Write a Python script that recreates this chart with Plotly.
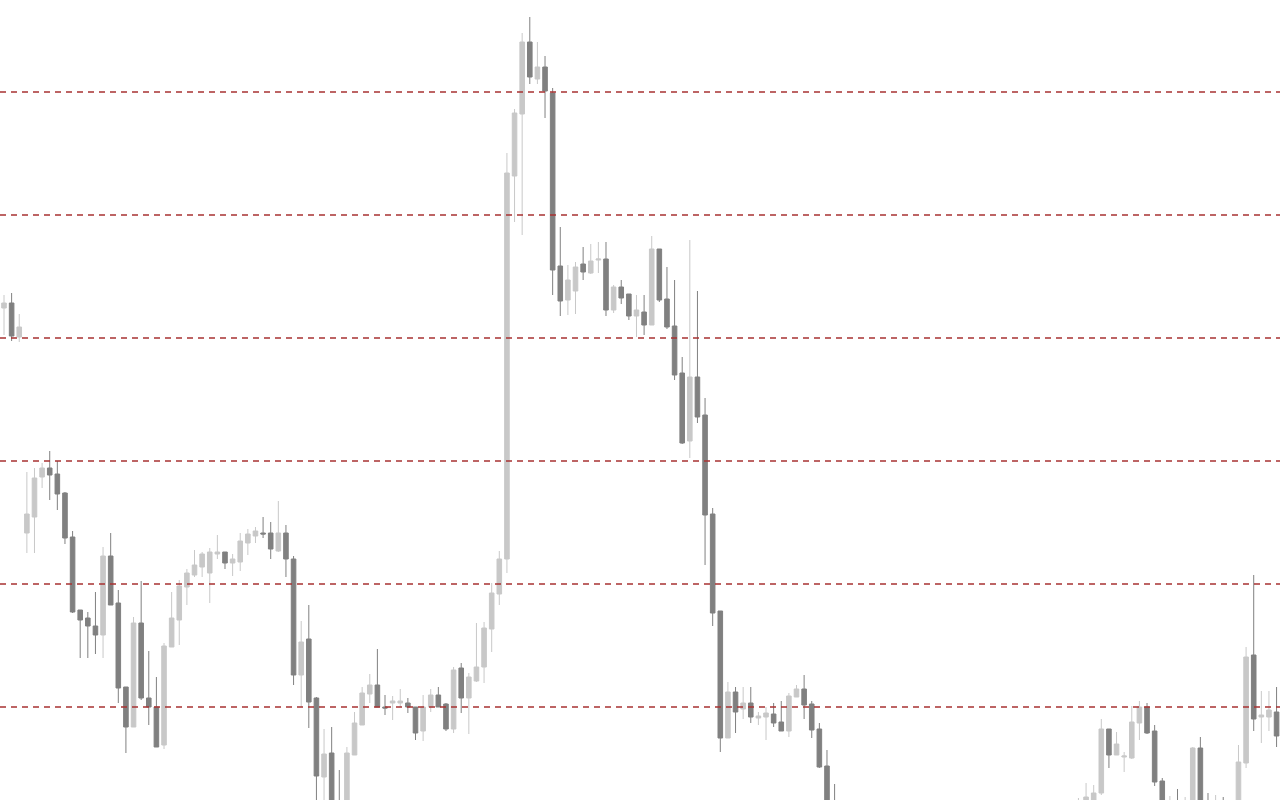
import plotly.graph_objects as go

# Bar index (one candle per period)
bars = list(range(168))

open_ = [1.2692, 1.2697, 1.2663, 1.2467, 1.2483, 1.2523, 1.2532, 1.2526, 1.2507, 1.2463,
         1.2390, 1.2382, 1.2374, 1.2365, 1.2444, 1.2397, 1.2313, 1.2273, 1.2377, 1.2302,
         1.2293, 1.2255, 1.2353, 1.2380, 1.2413, 1.2425, 1.2433, 1.2427, 1.2446, 1.2448,
         1.2437, 1.2438, 1.2457, 1.2464, 1.2467, 1.2467, 1.2449, 1.2467, 1.2441, 1.2325,
         1.2361, 1.2302, 1.2223, 1.2247, 1.2195, 1.2170, 1.2245, 1.2275, 1.2306, 1.2315,
         1.2293, 1.2297, 1.2297, 1.2297, 1.2293, 1.2269, 1.2293, 1.2305, 1.2296, 1.2271,
         1.2332, 1.2302, 1.2319, 1.2333, 1.2371, 1.2406, 1.2441, 1.2824, 1.2886, 1.2958,
         1.2921, 1.2933, 1.2907, 1.2734, 1.2700, 1.2709, 1.2736, 1.2727, 1.2740, 1.2741,
         1.2690, 1.2713, 1.2706, 1.2684, 1.2688, 1.2675, 1.2751, 1.2701, 1.2674, 1.2627,
         1.2559, 1.2623, 1.2585, 1.2486, 1.2389, 1.2262, 1.2308, 1.2291, 1.2297, 1.2282,
         1.2283, 1.2286, 1.2278, 1.2269, 1.2303, 1.2311, 1.2296, 1.2271, 1.2234, 1.2188,
         1.2160, 1.2128, 1.2150, 1.2105, 1.2080, 1.2100, 1.2065, 1.2035, 1.2050, 1.2070,
         1.2052, 1.2015, 1.2035, 1.2055, 1.2042, 1.2070, 1.2090, 1.2060, 1.2080, 1.2105,
         1.2090, 1.2125, 1.2140, 1.2115, 1.2085, 1.2115, 1.2135, 1.2125, 1.2155, 1.2135,
         1.2170, 1.2155, 1.2188, 1.2200, 1.2207, 1.2271, 1.2245, 1.2243, 1.2242, 1.2277,
         1.2293, 1.2269, 1.2219, 1.2180, 1.2195, 1.2170, 1.2185, 1.2252, 1.2178, 1.2160,
         1.2195, 1.2168, 1.2188, 1.2237, 1.2345, 1.2283, 1.2283, 1.2288]

high = [1.2705, 1.2707, 1.2686, 1.2528, 1.2532, 1.2537, 1.2549, 1.2539, 1.2508, 1.2469,
        1.2390, 1.2388, 1.2408, 1.2453, 1.2467, 1.2410, 1.2313, 1.2383, 1.2419, 1.2349,
        1.2323, 1.2357, 1.2408, 1.2420, 1.2431, 1.2450, 1.2448, 1.2452, 1.2465, 1.2448,
        1.2446, 1.2467, 1.2471, 1.2473, 1.2483, 1.2478, 1.2499, 1.2475, 1.2444, 1.2379,
        1.2395, 1.2303, 1.2271, 1.2273, 1.2230, 1.2253, 1.2288, 1.2313, 1.2326, 1.2351,
        1.2305, 1.2304, 1.2311, 1.2302, 1.2293, 1.2305, 1.2311, 1.2313, 1.2297, 1.2333,
        1.2337, 1.2327, 1.2377, 1.2378, 1.2417, 1.2449, 1.2847, 1.2891, 1.2967, 1.2983,
        1.2958, 1.2944, 1.2912, 1.2773, 1.2735, 1.2738, 1.2753, 1.2756, 1.2758, 1.2758,
        1.2715, 1.2720, 1.2706, 1.2705, 1.2705, 1.2764, 1.2751, 1.2733, 1.2720, 1.2643,
        1.2760, 1.2709, 1.2602, 1.2492, 1.2389, 1.2318, 1.2313, 1.2313, 1.2313, 1.2288,
        1.2293, 1.2297, 1.2299, 1.2307, 1.2315, 1.2325, 1.2299, 1.2277, 1.2250, 1.2216,
        1.2175, 1.2155, 1.2162, 1.2120, 1.2110, 1.2115, 1.2080, 1.2060, 1.2075, 1.2085,
        1.2060, 1.2040, 1.2060, 1.2070, 1.2075, 1.2095, 1.2100, 1.2085, 1.2110, 1.2120,
        1.2130, 1.2150, 1.2155, 1.2130, 1.2120, 1.2140, 1.2150, 1.2160, 1.2170, 1.2175,
        1.2185, 1.2202, 1.2217, 1.2215, 1.2281, 1.2271, 1.2268, 1.2248, 1.2294, 1.2299,
        1.2297, 1.2275, 1.2222, 1.2204, 1.2211, 1.2203, 1.2253, 1.2263, 1.2207, 1.2205,
        1.2203, 1.2199, 1.2255, 1.2353, 1.2425, 1.2309, 1.2309, 1.2313]

low = [1.2665, 1.2659, 1.2658, 1.2447, 1.2447, 1.2512, 1.2500, 1.2490, 1.2456, 1.2387,
       1.2342, 1.2342, 1.2346, 1.2342, 1.2395, 1.2297, 1.2247, 1.2273, 1.2300, 1.2275,
       1.2253, 1.2251, 1.2353, 1.2355, 1.2395, 1.2423, 1.2423, 1.2397, 1.2441, 1.2431,
       1.2424, 1.2429, 1.2445, 1.2457, 1.2462, 1.2441, 1.2448, 1.2423, 1.2315, 1.2293,
       1.2272, 1.2190, 1.2194, 1.2170, 1.2160, 1.2160, 1.2245, 1.2275, 1.2297, 1.2293,
       1.2285, 1.2280, 1.2293, 1.2287, 1.2260, 1.2259, 1.2288, 1.2293, 1.2269, 1.2267,
       1.2287, 1.2266, 1.2318, 1.2317, 1.2348, 1.2395, 1.2427, 1.2778, 1.2765, 1.2916,
       1.2916, 1.2882, 1.2705, 1.2684, 1.2685, 1.2686, 1.2720, 1.2726, 1.2727, 1.2684,
       1.2687, 1.2696, 1.2680, 1.2663, 1.2665, 1.2675, 1.2698, 1.2671, 1.2620, 1.2556,
       1.2542, 1.2577, 1.2435, 1.2374, 1.2248, 1.2262, 1.2267, 1.2281, 1.2277, 1.2275,
       1.2260, 1.2273, 1.2269, 1.2263, 1.2303, 1.2281, 1.2262, 1.2232, 1.2170, 1.2150,
       1.2120, 1.2115, 1.2100, 1.2070, 1.2065, 1.2060, 1.2025, 1.2020, 1.2040, 1.2045,
       1.2010, 1.2000, 1.2025, 1.2038, 1.2035, 1.2060, 1.2055, 1.2050, 1.2075, 1.2085,
       1.2082, 1.2115, 1.2110, 1.2080, 1.2075, 1.2105, 1.2120, 1.2115, 1.2130, 1.2128,
       1.2150, 1.2145, 1.2180, 1.2192, 1.2205, 1.2232, 1.2245, 1.2228, 1.2241, 1.2260,
       1.2266, 1.2214, 1.2170, 1.2165, 1.2160, 1.2155, 1.2180, 1.2170, 1.2150, 1.2152,
       1.2160, 1.2155, 1.2180, 1.2232, 1.2269, 1.2257, 1.2269, 1.2253]

close = [1.2697, 1.2664, 1.2673, 1.2486, 1.2522, 1.2532, 1.2525, 1.2506, 1.2462, 1.2388,
         1.2380, 1.2374, 1.2365, 1.2444, 1.2395, 1.2312, 1.2273, 1.2377, 1.2302, 1.2293,
         1.2253, 1.2354, 1.2382, 1.2414, 1.2427, 1.2435, 1.2446, 1.2448, 1.2448, 1.2437,
         1.2441, 1.2459, 1.2466, 1.2469, 1.2466, 1.2451, 1.2467, 1.2441, 1.2325, 1.2358,
         1.2298, 1.2224, 1.2246, 1.2185, 1.2175, 1.2247, 1.2277, 1.2307, 1.2315, 1.2293,
         1.2292, 1.2299, 1.2299, 1.2293, 1.2267, 1.2293, 1.2305, 1.2293, 1.2271, 1.2330,
         1.2302, 1.2323, 1.2333, 1.2372, 1.2407, 1.2441, 1.2827, 1.2887, 1.2958, 1.2923,
         1.2933, 1.2909, 1.2730, 1.2699, 1.2720, 1.2733, 1.2728, 1.2739, 1.2741, 1.2690,
         1.2713, 1.2702, 1.2684, 1.2690, 1.2675, 1.2751, 1.2700, 1.2673, 1.2625, 1.2557,
         1.2623, 1.2583, 1.2485, 1.2387, 1.2262, 1.2308, 1.2288, 1.2297, 1.2283, 1.2284,
         1.2287, 1.2277, 1.2269, 1.2304, 1.2311, 1.2295, 1.2270, 1.2233, 1.2185, 1.2160,
         1.2130, 1.2150, 1.2105, 1.2080, 1.2100, 1.2065, 1.2035, 1.2050, 1.2070, 1.2052,
         1.2015, 1.2035, 1.2055, 1.2042, 1.2070, 1.2090, 1.2060, 1.2080, 1.2105, 1.2090,
         1.2125, 1.2140, 1.2115, 1.2085, 1.2115, 1.2135, 1.2125, 1.2155, 1.2135, 1.2170,
         1.2155, 1.2190, 1.2203, 1.2207, 1.2271, 1.2245, 1.2256, 1.2244, 1.2278, 1.2293,
         1.2267, 1.2218, 1.2185, 1.2195, 1.2170, 1.2188, 1.2252, 1.2178, 1.2160, 1.2195,
         1.2168, 1.2190, 1.2238, 1.2343, 1.2281, 1.2285, 1.2290, 1.2264]

# Horizontal dashed price levels
levels = [1.2908, 1.2785, 1.2662, 1.2539, 1.2416, 1.2293]

UP = "#c8c8c8"
DOWN = "#808080"
LEVEL_COLOR = "#a83232"

fig = go.Figure()
fig.add_trace(go.Candlestick(
    x=bars, open=open_, high=high, low=low, close=close,
    increasing=dict(line=dict(color=UP, width=1), fillcolor=UP),
    decreasing=dict(line=dict(color=DOWN, width=1), fillcolor=DOWN),
    whiskerwidth=0,
    hoverinfo="skip",
    showlegend=False,
))

for lv in levels:
    fig.add_hline(y=lv, line=dict(color=LEVEL_COLOR, width=1.5, dash="6px,5px"), layer="above")

fig.update_layout(
    width=1280, height=800,
    margin=dict(l=0, r=0, t=0, b=0, pad=0),
    paper_bgcolor="white", plot_bgcolor="white",
    boxgap=0.2, boxgroupgap=0.25,
    showlegend=False,
    xaxis=dict(range=[-0.525, 167.45], visible=False, rangeslider=dict(visible=False),
               showgrid=False, zeroline=False, fixedrange=True),
    yaxis=dict(range=[1.2200, 1.3000], visible=False, showgrid=False, zeroline=False,
               fixedrange=True),
)

fig.write_html(
    "out.html",
    config={"displayModeBar": False},
    post_script="document.body.style.margin='0';document.body.style.overflow='hidden';",
)
